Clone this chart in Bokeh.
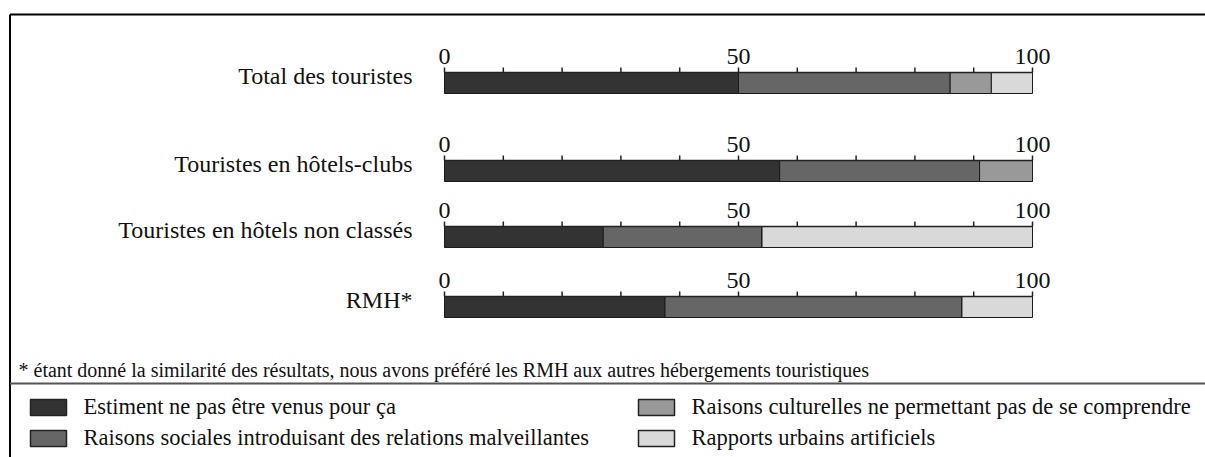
from bokeh.plotting import figure
from bokeh.models import Range1d, ColumnDataSource
from bokeh.core.properties import value
from bokeh.embed import file_html
from bokeh.resources import INLINE

# ---- data ----
rows = ["Total des touristes", "Touristes en hôtels-clubs",
        "Touristes en hôtels non classés", "RMH*"]
series = ["Estiment ne pas être venus pour ça",
          "Raisons sociales introduisant des relations malveillantes",
          "Raisons culturelles ne permettant pas de se comprendre",
          "Rapports urbains artificiels"]
pas_venus = [50, 57, 27, 37.5]
sociales = [36, 34, 27, 50.5]
culturelles = [7, 9, 0, 0]
urbains = [7, 0, 46, 12]
tick_values = [0, 10, 20, 30, 40, 50, 60, 70, 80, 90, 100]
tick_labels = ["0", "50", "100"]
tick_label_values = [0, 50, 100]
footnote = ("* étant donné la similarité des résultats, nous avons préféré "
            "les RMH aux autres hébergements touristiques")
colors = ["#333333", "#666666", "#999999", "#d9d9d9"]

# ---- layout ----
FONT = value("Liberation Serif")
W, H = 1205, 457
X0, PXU = 444, 5.88


def px(v):
    return (v - X0) / PXU


def base(y, size):
    # compensate the renderer's baseline offset
    return y - 0.36 * size


bar_tops = [72, 160, 226, 296]
BAR_H = 21

p = figure(width=W, height=H, x_range=Range1d(px(0), px(W)),
           y_range=Range1d(H, 0), output_backend="svg",
           toolbar_location=None, min_border=0, outline_line_color=None,
           x_axis_location=None, y_axis_location=None)
p.grid.visible = False
p.background_fill_color = "white"

# frame
p.segment(x0=[px(9.5), px(9.5)], y0=[14, 14], x1=[px(W), px(9.5)], y1=[14, H],
          line_color="black", line_width=2)
p.segment(x0=[px(9.5)], y0=[383], x1=[px(W)], y1=[383],
          line_color="#555555", line_width=2)

# bars
keys = ["a", "b", "c", "d"]
src = ColumnDataSource(dict(y=[t + BAR_H / 2 for t in bar_tops],
                            a=pas_venus, b=sociales, c=culturelles, d=urbains))
p.hbar_stack(keys, y="y", height=BAR_H, color=colors, source=src,
             line_color="#1a1a1a", line_width=1)

# per-row axes
ax_x0, ax_y0, ax_x1, ax_y1 = [], [], [], []
for t in bar_tops:
    ax_x0.append(tick_values[0]); ax_x1.append(tick_values[-1])
    ax_y0.append(t); ax_y1.append(t)
    for v in tick_values:
        ax_x0.append(v); ax_x1.append(v)
        ax_y0.append(t); ax_y1.append(t - 5)
p.segment(x0=ax_x0, y0=ax_y0, x1=ax_x1, y1=ax_y1, line_color="#222222",
          line_width=1.5)

TICK_FS = 24
tl_x, tl_y, tl_t = [], [], []
for t in bar_tops:
    for v, lab in zip(tick_label_values, tick_labels):
        tl_x.append(v); tl_y.append(base(t - 7, TICK_FS)); tl_t.append(lab)
p.text(x=tl_x, y=tl_y, text=tl_t, text_align="center",
       text_baseline="alphabetic", text_font=FONT,
       text_font_size=f"{TICK_FS}px", text_color="#111111")

# row labels
ROW_FS = 24
p.text(x=[px(412)] * len(rows), y=[base(t + 12, ROW_FS) for t in bar_tops],
       text=rows, text_align="right", text_baseline="alphabetic",
       text_font=FONT, text_font_size=f"{ROW_FS}px", text_color="#111111")

# footnote
FN_FS = 20
p.text(x=[px(18)], y=[base(377, FN_FS)], text=[footnote], text_align="left",
       text_baseline="alphabetic", text_font=FONT,
       text_font_size=f"{FN_FS}px", text_color="#111111")

# legend
LEG_FS = 22.5
sw_left = [30, 30, 638, 638]
sw_top = [399, 430, 399, 430]
SW_W, SW_H = 36, 16
p.quad(left=[px(l) for l in sw_left], right=[px(l + SW_W) for l in sw_left],
       top=sw_top, bottom=[t + SW_H for t in sw_top], fill_color=colors,
       line_color="#222222", line_width=1.5)
p.text(x=[px(l + 53) for l in sw_left],
       y=[base(t + 15, LEG_FS) for t in sw_top],
       text=series, text_align="left", text_baseline="alphabetic",
       text_font=FONT, text_font_size=f"{LEG_FS}px", text_color="#111111")

open("out.html", "w").write(file_html(p, INLINE))
